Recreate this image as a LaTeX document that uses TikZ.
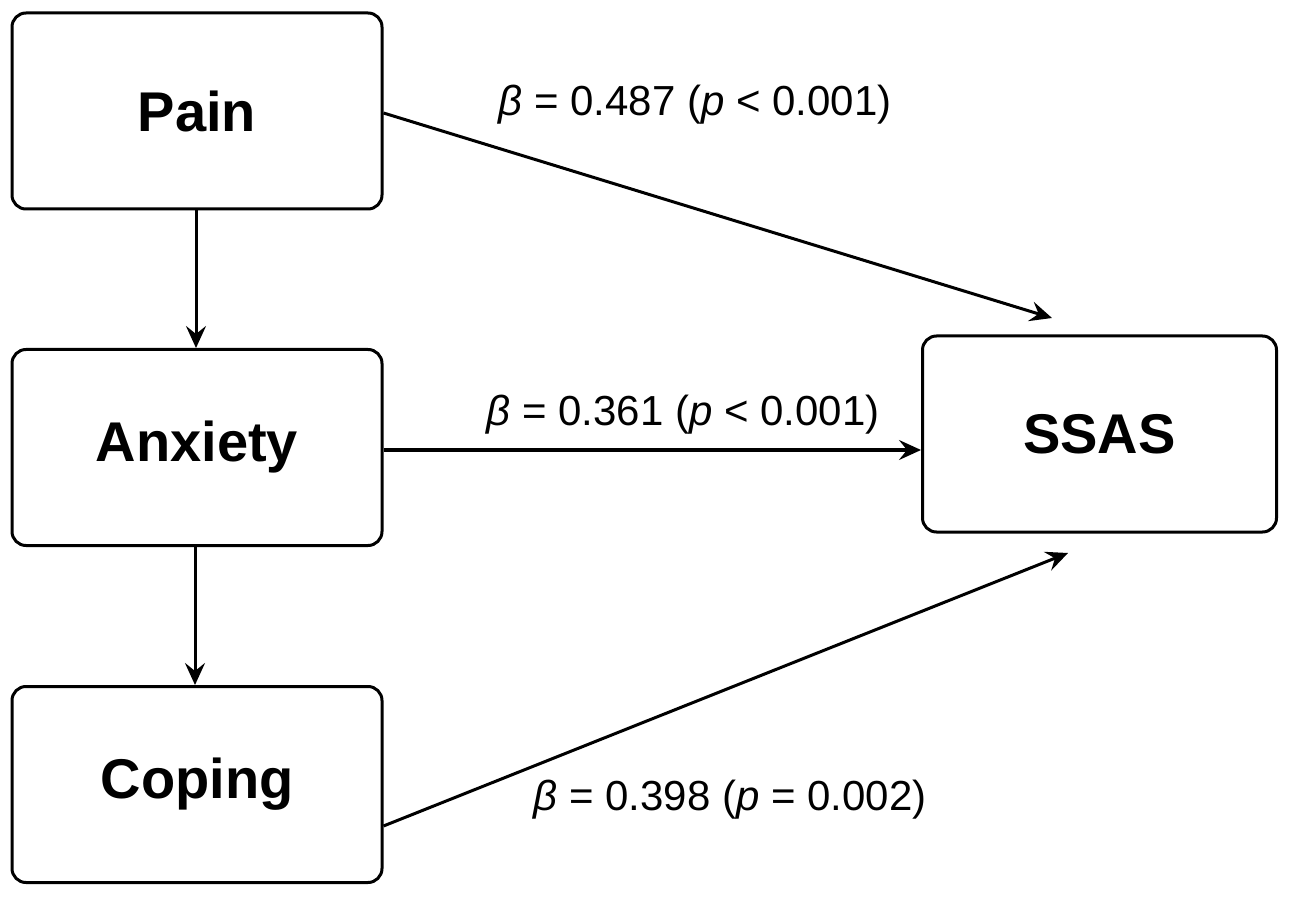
\documentclass[tikz,border=0pt]{standalone}
\usepackage{fontspec}
\setmainfont{Liberation Sans}
\usetikzlibrary{arrows.meta}
\begin{document}
\begin{tikzpicture}[x=0.5pt,y=-0.5pt,
  box/.style={draw,line width=1.5pt,rounded corners=7pt,minimum width=185pt,minimum height=98pt,font=\fontsize{28}{30}\selectfont\bfseries},
  conn/.style={line width=1.5pt,-{Stealth[length=11pt,width=10pt,inset=4pt]}},
  lab/.style={font=\fontsize{21}{24}\selectfont}]
\useasboundingbox (0,0) rectangle (1290,898);
\node[box] (pain) at (197,111) {Pain};
\node[box] (anx) at (197,447.5) {Anxiety};
\node[box] (cop) at (197,784.5) {Coping};
\node[box,minimum width=177pt] (ssas) at (1099.5,434) {SSAS};
\coordinate (e1) at (1052,318);
\coordinate (e3) at (1068,553);
\draw[conn] (pain.south -| 196,0) -- (anx.north -| 196,0);
\draw[conn] (anx.south -| 195,0) -- (cop.north -| 195,0);
\draw[conn] (pain.east |- 0,113) -- (e1);
\draw[conn] (anx.east |- 0,450) -- (ssas.west |- 0,450);
\draw[conn] (cop.east |- 0,826) -- (e3);
\node[lab] (l1) at (695,105) {{\itshape β} = 0.487 ({\itshape p} < 0.001)};
\node[lab] (l2) at (683,415) {{\itshape β} = 0.361 ({\itshape p} < 0.001)};
\node[lab] (l3) at (730,800) {{\itshape β} = 0.398 ({\itshape p} = 0.002)};
\end{tikzpicture}
\end{document}
